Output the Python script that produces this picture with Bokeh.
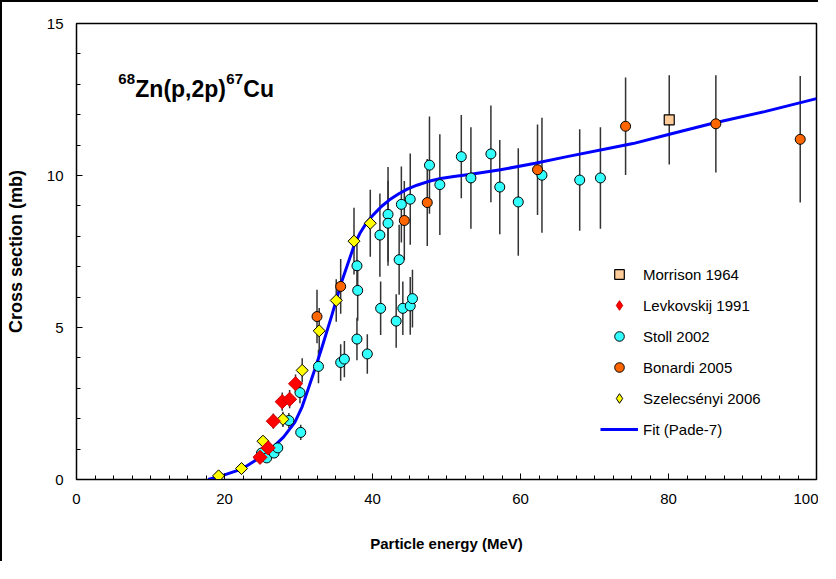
import math
from bokeh.plotting import figure
from bokeh.models import (ColumnDataSource, Legend, LegendItem, Label,
                          SingleIntervalTicker, Range1d)
from bokeh.embed import file_html
from bokeh.resources import INLINE

# ---------------- data ----------------
morrison_x = [80.1]
morrison_y = [11.83]
morrison_e = [1.47]

levk_x = [24.8, 25.9, 26.6, 27.8, 28.8, 29.6]
levk_y = [0.73, 1.04, 1.92, 2.56, 2.64, 3.15]
levk_e = [0.10, 0.15, 0.25, 0.30, 0.30, 0.30]

stoll_x = [25.0, 25.7, 26.7, 27.2, 28.7, 30.2, 30.3, 32.7, 35.7, 36.2,
           37.9, 38.0, 37.9, 39.3, 41.0, 41.1, 42.1, 42.1, 43.2, 43.6,
           43.9, 44.1, 45.1, 45.1, 45.4, 47.7, 49.1, 52.0, 53.3, 56.0,
           57.2, 59.7, 62.9, 68.0, 70.8]
stoll_y = [0.87, 0.71, 0.87, 1.04, 1.94, 2.86, 1.55, 3.72, 3.85, 3.96,
           7.03, 6.22, 4.62, 4.13, 8.04, 5.63, 8.72, 8.43, 5.21, 7.23,
           9.05, 5.63, 9.22, 5.71, 5.95, 10.34, 9.70, 10.62, 9.92, 10.71,
           9.62, 9.13, 10.01, 9.85, 9.92]
stoll_e = [0.10, 0.10, 0.10, 0.15, 0.25, 0.35, 0.25, 0.55, 0.60, 0.60,
           0.90, 1.00, 0.70, 0.65, 1.37, 0.88, 1.56, 1.40, 0.88, 1.15,
           1.25, 0.88, 1.50, 0.95, 0.95, 1.60, 1.66, 1.37, 1.67, 1.59,
           1.55, 1.77, 1.89, 1.67, 1.67]

bonardi_x = [32.5, 35.7, 44.3, 47.4, 62.3, 74.2, 86.4, 97.8]
bonardi_y = [5.36, 6.35, 8.52, 9.11, 10.19, 11.62, 11.70, 11.19]
bonardi_e = [0.88, 0.90, 1.30, 1.43, 1.49, 1.60, 1.60, 2.08]

szel_x = [19.2, 22.3, 25.2, 27.9, 30.5, 32.8, 35.1, 37.5, 39.7]
szel_y = [0.12, 0.36, 1.26, 1.98, 3.59, 4.89, 5.89, 7.84, 8.43]
szel_e = [0.05, 0.05, 0.15, 0.25, 0.40, 0.75, 0.70, 1.10, 1.10]

fit_x = [17.8, 20, 22.3, 24, 26.3, 28, 29.5, 30.5, 31.3, 32.2, 33.1, 34.5,
         35.8, 36.7, 37.5, 38.3, 39.2, 40.2, 41.2, 42.3, 43.5, 44.7, 46,
         47.5, 49.2, 51, 53.3, 57.3, 62, 66.3, 72.5, 75.2, 80, 86.0, 93, 100]
fit_y = [0.0, 0.15, 0.34, 0.6, 1.0, 1.4, 1.88, 2.4, 2.97, 3.62, 4.29, 5.4,
         6.48, 7.12, 7.69, 8.1, 8.45, 8.73, 8.98, 9.2, 9.39, 9.55, 9.68,
         9.8, 9.9, 9.97, 10.04, 10.19, 10.4, 10.62, 10.92, 11.05, 11.35,
         11.72, 12.1, 12.53]

x_ticks = [0, 20, 40, 60, 80, 100]
y_ticks = [0, 5, 10, 15]

FONT = "Liberation Sans"

# ---------------- figure ----------------
p = figure(width=818, height=561, output_backend="svg", toolbar_location=None,
           x_range=Range1d(0, 100), y_range=Range1d(0, 15),
           min_border_left=71, min_border_right=4, min_border_top=21,
           min_border_bottom=84)
p.styles = {"border-top": "2px solid black", "border-left": "2px solid black"}
p.xgrid.visible = False
p.ygrid.visible = False
p.outline_line_color = "black"
p.outline_line_width = 1.5
p.background_fill_color = "white"
p.border_fill_color = "white"

p.xaxis.ticker = SingleIntervalTicker(interval=20, num_minor_ticks=8)
p.yaxis.ticker = SingleIntervalTicker(interval=5, num_minor_ticks=5)
for ax in (p.xaxis[0], p.yaxis[0]):
    ax.major_tick_in = 6
    ax.major_tick_out = 0
    ax.minor_tick_in = 4
    ax.minor_tick_out = 0
    ax.axis_line_color = "black"
    ax.major_tick_line_color = "black"
    ax.minor_tick_line_color = "black"
    ax.major_label_text_font = FONT
    ax.major_label_text_font_size = "15px"
    ax.major_label_text_color = "black"
    ax.axis_label_text_font = FONT
    ax.axis_label_text_font_style = "bold"
    ax.axis_label_text_color = "black"

p.xaxis.axis_label = "Particle energy (MeV)"
p.xaxis.axis_label_text_font_size = "15px"
p.xaxis.major_label_standoff = 14
p.xaxis.axis_label_standoff = 28

p.yaxis.axis_label = "Cross section (mb)"
p.yaxis.axis_label_text_font_size = "18px"
p.yaxis.major_label_standoff = 13
p.yaxis.axis_label_standoff = 18

# ---------------- error bars ----------------
def errbars(xs, ys, es):
    src = ColumnDataSource(dict(x=xs, lo=[y - e for y, e in zip(ys, es)],
                                hi=[y + e for y, e in zip(ys, es)]))
    p.segment(x0="x", y0="lo", x1="x", y1="hi", source=src,
              line_color="#333333", line_width=1.5)

for xs, ys, es in [(stoll_x, stoll_y, stoll_e), (bonardi_x, bonardi_y, bonardi_e),
                   (szel_x, szel_y, szel_e), (levk_x, levk_y, levk_e),
                   (morrison_x, morrison_y, morrison_e)]:
    errbars(xs, ys, es)

# ---------------- fit line ----------------
r_fit = p.line(fit_x, fit_y, line_color="#0000FF", line_width=3,
               line_join="round")

# ---------------- markers ----------------
r_stoll = p.scatter(stoll_x, stoll_y, marker="circle", size=10,
                    fill_color="#33FFFF", line_color="black", line_width=1)
r_bon = p.scatter(bonardi_x, bonardi_y, marker="circle", size=10,
                  fill_color="#FF6600", line_color="black", line_width=1)
r_szel = p.scatter(szel_x, szel_y, marker="square", angle=math.pi / 4, size=8.5,
                   fill_color="#FFFF00", line_color="black", line_width=1)
r_levk = p.scatter(levk_x, levk_y, marker="square", angle=math.pi / 4, size=10,
                   fill_color="#FF0000", line_color="#CC0000", line_width=1)
r_mor = p.scatter(morrison_x, morrison_y, marker="square", size=10,
                  fill_color="#FFCC99", line_color="black", line_width=1.2)

# hidden proxies so that the legend shows diamond symbols
leg_levk = p.scatter(levk_x, levk_y, marker="diamond", size=10,
                     fill_color="#FF0000", line_color="#CC0000", line_width=1,
                     visible=False)
leg_szel = p.scatter(szel_x, szel_y, marker="diamond", size=10,
                     fill_color="#FFFF00", line_color="black", line_width=1,
                     visible=False)

# ---------------- legend ----------------
legend = Legend(items=[
    LegendItem(label="Morrison 1964", renderers=[r_mor]),
    LegendItem(label="Levkovskij 1991", renderers=[leg_levk]),
    LegendItem(label="Stoll 2002", renderers=[r_stoll]),
    LegendItem(label="Bonardi 2005", renderers=[r_bon]),
    LegendItem(label="Szelecsényi 2006", renderers=[leg_szel]),
    LegendItem(label="Fit (Pade-7)", renderers=[r_fit]),
], location=(524, 38))
legend.border_line_color = None
legend.background_fill_alpha = 0
legend.inactive_fill_alpha = 0
legend.padding = 0
legend.margin = 0
legend.spacing = 7
legend.glyph_width = 38
legend.glyph_height = 24
legend.label_height = 24
legend.label_standoff = 5
legend.label_text_font = FONT
legend.label_text_font_size = "15px"
legend.label_text_color = "black"
p.add_layout(legend)

# ---------------- title (with superscripts) ----------------
tx, ty = 5.65, 12.83
title_parts = [("68", 0, 10, "15px"), ("Zn(p,2p)", 17, 0, "23px"),
               ("67", 108, 10, "15px"), ("Cu", 125, 0, "23px")]
for txt, dx, dy, fs in title_parts:
    p.add_layout(Label(x=tx, y=ty, x_offset=dx, y_offset=dy, text=txt,
                       text_font=FONT, text_font_style="bold",
                       text_font_size=fs, text_color="black",
                       text_baseline="alphabetic", text_align="left"))

open("out.html", "w").write(file_html(p, INLINE))
